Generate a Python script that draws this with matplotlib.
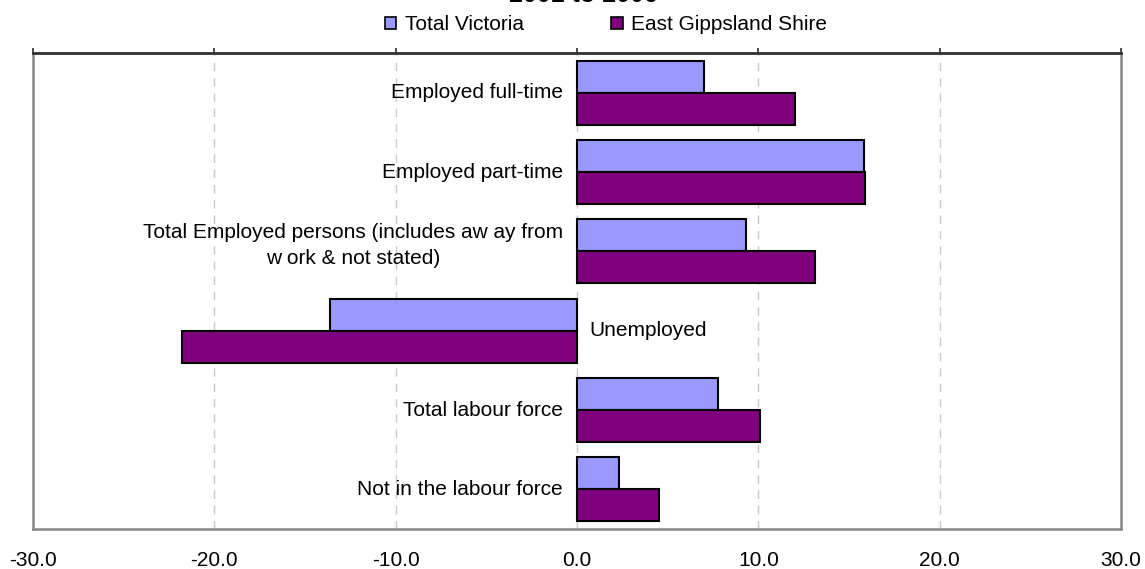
import matplotlib
matplotlib.use("Agg")
import matplotlib.pyplot as plt
from matplotlib.patches import Patch
from matplotlib.transforms import offset_copy

plt.rcParams['font.family'] = ['Liberation Sans', 'DejaVu Sans']

categories = [
    "Employed full-time",
    "Employed part-time",
    "Total Employed persons (includes aw ay from\nw ork & not stated)",
    "Unemployed",
    "Total labour force",
    "Not in the labour force",
]
total_victoria = [7.0, 15.8, 9.3, -13.6, 7.8, 2.3]
east_gippsland = [12.0, 15.9, 13.1, -21.8, 10.1, 4.5]
series_names = ["Total Victoria", "East Gippsland Shire"]
xticks = [-30, -20, -10, 0, 10, 20, 30]
title = "2001 to 2006"

c_vic = "#9999FF"
c_eg = "#800080"
FS = 15

W, H = 1145, 569
fig = plt.figure(figsize=(W / 100, H / 100), dpi=100)
left, right, top, bottom = 33, 1121, 53, 529
ax = fig.add_axes([left / W, (H - bottom) / H, (right - left) / W, (bottom - top) / H])

bh = 0.403
ys = list(range(len(categories)))
ax.barh([y - bh / 2 for y in ys], total_victoria, height=bh, color=c_vic,
        edgecolor="black", linewidth=1.5, zorder=3)
ax.barh([y + bh / 2 for y in ys], east_gippsland, height=bh, color=c_eg,
        edgecolor="black", linewidth=1.5, zorder=3)

ax.set_xlim(-30, 30)
ax.set_ylim(len(categories) - 0.5, -0.5)
ax.set_xticks(xticks)
ax.set_xticklabels([f"{v:.1f}" for v in xticks], fontsize=FS)
ax.set_yticks([])
for v in xticks[1:-1]:
    ax.axvline(v, color="#c8c8c8", linewidth=1, linestyle=(0, (6, 5)), zorder=1)

ax.tick_params(axis='x', top=True, bottom=False, labeltop=False, labelbottom=True,
               direction='out', length=3.5, width=1.2, color="#303030", pad=12)
for s in ['left', 'right', 'bottom']:
    ax.spines[s].set_color("#888888")
    ax.spines[s].set_linewidth(1.8)
ax.spines['top'].set_color("#303030")
ax.spines['top'].set_linewidth(2)

for i, (lab, v1, v2) in enumerate(zip(categories, total_victoria, east_gippsland)):
    dy = 6 if "\n" in lab else 0
    if min(v1, v2) < 0:
        tr = offset_copy(ax.transData, fig=fig, x=12, y=dy, units='dots')
        ax.text(0, i, lab, transform=tr, ha='left', va='center', fontsize=FS,
                multialignment='center', linespacing=1.45)
    else:
        tr = offset_copy(ax.transData, fig=fig, x=-14, y=dy, units='dots')
        ax.text(0, i, lab, transform=tr, ha='right', va='center', fontsize=FS,
                multialignment='center', linespacing=1.45)

handles = [Patch(facecolor=c_vic, edgecolor='black', linewidth=1.2),
           Patch(facecolor=c_eg, edgecolor='black', linewidth=1.2)]
fig.legend(handles, series_names, loc='center', bbox_to_anchor=(606 / W, 1 - 25 / H),
           ncol=2, frameon=False, fontsize=FS, handlelength=0.55, handleheight=0.55,
           handletextpad=0.4, columnspacing=4.2, borderaxespad=0)

fig.text(583 / W, 1 - 2 / H, title, ha='center', va='baseline', fontsize=18,
         fontweight='bold')

fig.savefig("out.png", dpi=100)
